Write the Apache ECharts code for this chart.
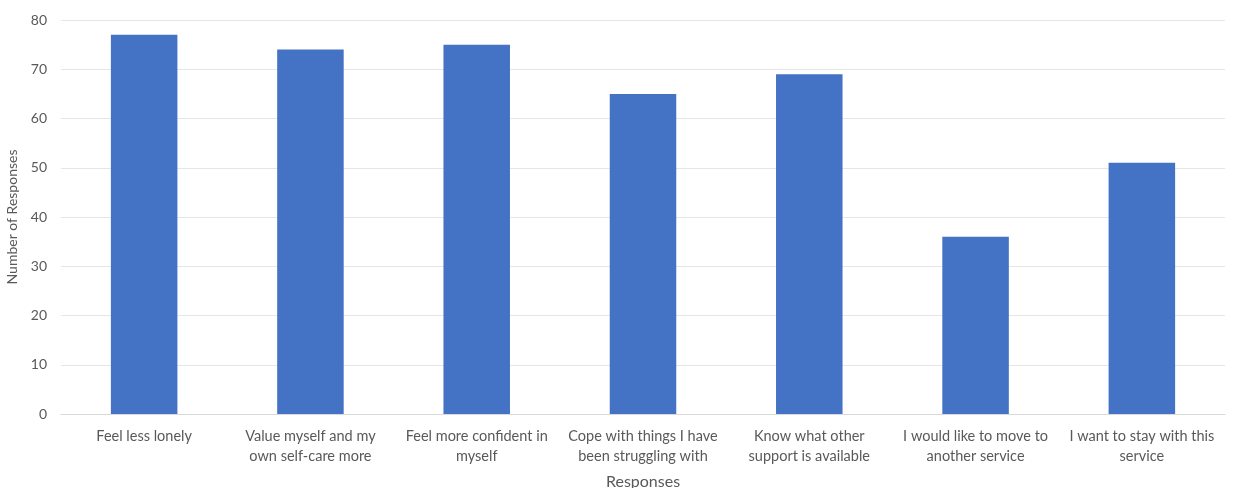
<!DOCTYPE html>
<html>
<head>
<meta charset="utf-8">
<script src="https://cdn.jsdelivr.net/npm/echarts@6/dist/echarts.min.js"></script>
<style>
  html, body { margin: 0; padding: 0; background: #fff; }
  #chart { width: 1234px; height: 488px; }
</style>
</head>
<body>
<div id="chart"></div>
<script>
// categories along the x axis
var categories = [
    'Feel less lonely',
    'Value myself and my\nown self-care more',
    'Feel more confident in\nmyself',
    'Cope with things I have\nbeen struggling with',
    'Know what other\nsupport is available',
    'I would like to move to\nanother service',
    'I want to stay with this\nservice'
];

// number of responses
var responses = [77, 74, 75, 65, 69, 36, 51];

var myChart = echarts.init(document.getElementById('chart'));

var option = {
    textStyle: { fontFamily: 'Lato' },
    grid: { left: 61, right: 9, top: 20, bottom: 74, outerBoundsMode: 'none', containLabel: false },
    xAxis: {
        type: 'category',
        data: categories,
        name: 'Responses',
        nameLocation: 'middle',
        nameGap: 60,
        nameTextStyle: { color: '#595959', fontSize: 16 },
        axisLine: { lineStyle: { color: '#d9d9d9' } },
        axisTick: { show: false },
        axisLabel: { color: '#595959', fontSize: 14.5, lineHeight: 20, margin: 12, interval: 0 }
    },
    yAxis: {
        type: 'value',
        min: 0,
        max: 80,
        interval: 10,
        name: 'Number of Responses',
        nameLocation: 'middle',
        nameGap: 37,
        nameTextStyle: { color: '#595959', fontSize: 14 },
        axisLabel: { color: '#595959', fontSize: 14, margin: 14 },
        splitLine: { lineStyle: { color: '#e6e6e6', width: 1 } }
    },
    series: [{
        type: 'bar',
        data: responses,
        barWidth: '40%',
        itemStyle: { color: '#4472c4' }
    }]
};

myChart.setOption(option);
</script>
</body>
</html>
